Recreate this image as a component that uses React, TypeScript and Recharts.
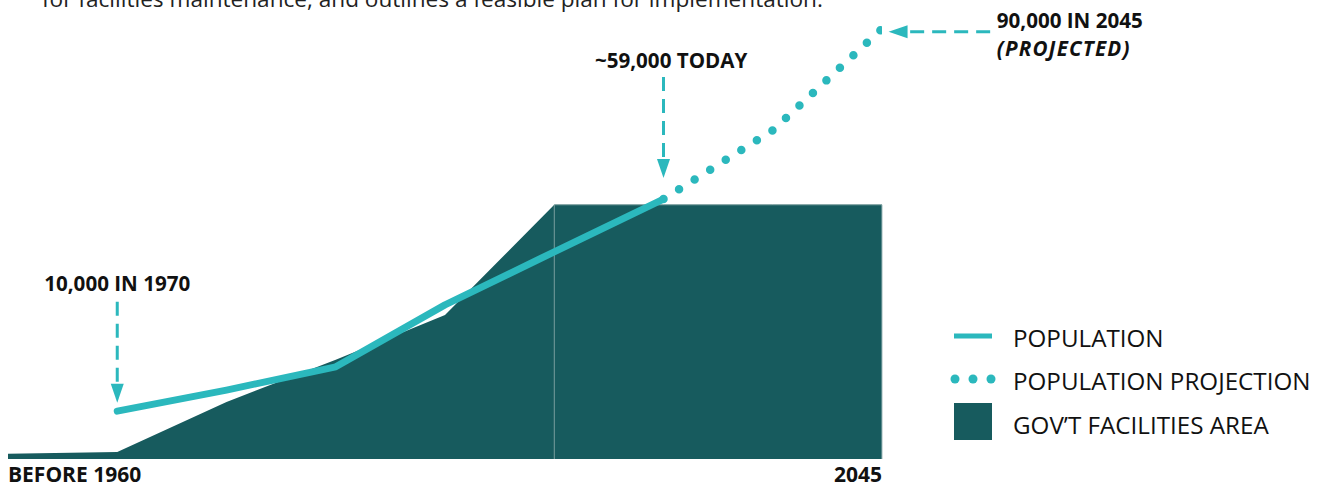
import React from 'react';
import { ComposedChart, Area, Line, XAxis, YAxis, ReferenceLine, ReferenceDot } from 'recharts';

const steps = [0, 1, 2, 3, 4, 5, 6, 7, 8];
const xTickLabels = ['BEFORE 1960', '2045'];
const facilitiesRise = [1.2, 1.6, 13.0, 22.6, 32.8, 57.9, null, null, null];
const facilitiesFlat = [null, null, null, null, null, 57.9, 57.9, 57.9, 57.9];
const population = [null, 10.9, 15.7, 21.0, 35.1, 47.2, 59.2, null, null];
const projection = [null, null, null, null, null, null, 59.2, 74.9, 98.0];
const legendItems = ['POPULATION', 'POPULATION PROJECTION', 'GOV’T FACILITIES AREA'];

const TEAL = '#2bb8bd';
const DARK = '#175b5e';
const FONT = '"Open Sans", sans-serif';

const data = steps.map((s, i) => ({
  step: s,
  rise: facilitiesRise[i],
  flat: facilitiesFlat[i],
  population: population[i],
  projection: projection[i],
}));

const DashArrow = (p: any) => {
  const { x1, y1, x2, y2 } = p;
  const a = Math.atan2(y2 - y1, x2 - x1);
  const len = 19;
  const half = 6.5;
  const bx = x2 - len * Math.cos(a);
  const by = y2 - len * Math.sin(a);
  const pts = [
    [x2, y2],
    [bx - half * Math.sin(a), by + half * Math.cos(a)],
    [bx + half * Math.sin(a), by - half * Math.cos(a)],
  ]
    .map((q) => q.join(','))
    .join(' ');
  return (
    <g>
      <line x1={x1} y1={y1} x2={bx} y2={by} stroke={TEAL} strokeWidth={3} strokeDasharray="14 8" />
      <polygon points={pts} fill={TEAL} />
    </g>
  );
};

const callout = (text: string, anchor: 'start' | 'middle', italic = false) => (p: any) => (
  <text
    x={p.cx}
    y={p.cy}
    textAnchor={anchor}
    dominantBaseline="central"
    fontFamily={FONT}
    fontWeight={700}
    fontStyle={italic ? 'italic' : 'normal'}
    letterSpacing={italic ? 1.2 : 0}
    fontSize={20.6}
    fill="#111"
  >
    {text}
  </text>
);

const XTick = (p: any) => {
  const first = p.payload.value === steps[0];
  return (
    <text
      x={p.x}
      y={p.y}
      dy={22.5}
      textAnchor={first ? 'start' : 'end'}
      fontFamily={FONT}
      fontWeight={700}
      fontSize={21}
      fill="#111"
    >
      {first ? xTickLabels[0] : xTickLabels[1]}
    </text>
  );
};

const ChartLegend = () => (
  <svg width={370} height={140} style={{ position: 'absolute', left: 950, top: 315 }}>
    <line x1={4} y1={21} x2={42} y2={21} stroke={TEAL} strokeWidth={5} />
    {[5, 23, 41].map((cx) => (
      <circle key={cx} cx={cx} cy={64} r={4.5} fill={TEAL} />
    ))}
    <rect x={4} y={88} width={38} height={37} fill={DARK} />
    {legendItems.map((t, i) => (
      <text
        key={t}
        x={63}
        y={[22, 65, 109][i]}
        dominantBaseline="central"
        fontFamily={FONT}
        fontSize={24.2}
        fill="#111"
      >
        {t}
      </text>
    ))}
  </svg>
);

export default function App() {
  return (
    <div style={{ position: 'absolute', left: 0, top: 0, width: 1320, height: 485, background: '#fff', overflow: 'hidden' }}>
      <div
        style={{
          position: 'absolute',
          left: 42,
          top: -12,
          fontFamily: FONT,
          fontSize: 22.6,
          lineHeight: '22.6px',
          whiteSpace: 'nowrap',
          color: '#222',
        }}
      >
        for facilities maintenance, and outlines a feasible plan for implementation.
      </div>
      <ComposedChart width={1320} height={485} data={data} margin={{ top: 20, right: 438, bottom: 0, left: 8 }}>
        <XAxis
          dataKey="step"
          type="number"
          domain={[0, 8]}
          ticks={[0, 8]}
          allowDataOverflow
          height={26}
          axisLine={false}
          tickLine={false}
          tickSize={0}
          tickMargin={0}
          tick={<XTick />}
          interval={0}
        />
        <YAxis hide width={0} domain={[0, 100]} allowDataOverflow />
        <Area dataKey="rise" type="linear" fill={DARK} fillOpacity={1} stroke="none" isAnimationActive={false} />
        <Area dataKey="flat" type="linear" fill={DARK} fillOpacity={1} stroke="#6f9697" strokeWidth={1} isAnimationActive={false} />
        <ReferenceLine segment={[{ x: 5, y: 0 }, { x: 5, y: 57.9 }]} stroke="#6f9697" strokeWidth={1} />
        <ReferenceLine segment={[{ x: 8, y: 0 }, { x: 8, y: 57.9 }]} stroke="#9fb9ba" strokeWidth={1} />
        <Line
          dataKey="population"
          type="linear"
          stroke={TEAL}
          strokeWidth={7}
          strokeLinecap="round"
          strokeLinejoin="round"
          dot={false}
          activeDot={false}
          isAnimationActive={false}
        />
        <Line
          dataKey="projection"
          type="linear"
          stroke={TEAL}
          strokeWidth={8.5}
          strokeLinecap="round"
          strokeDasharray="0 18.4"
          dot={false}
          activeDot={false}
          isAnimationActive={false}
        />
        <ReferenceLine segment={[{ x: 1, y: 35.8 }, { x: 1, y: 12.8 }]} ifOverflow="visible" shape={DashArrow} />
        <ReferenceLine segment={[{ x: 6, y: 87.0 }, { x: 6, y: 64.0 }]} ifOverflow="visible" shape={DashArrow} />
        <ReferenceLine segment={[{ x: 8.99, y: 97.3 }, { x: 8.06, y: 97.3 }]} ifOverflow="visible" shape={DashArrow} />
        <ReferenceDot x={1} y={40.1} ifOverflow="visible" shape={callout('10,000 IN 1970', 'middle')} />
        <ReferenceDot x={6.07} y={90.9} ifOverflow="visible" shape={callout('~59,000 TODAY', 'middle')} />
        <ReferenceDot x={9.05} y={100} ifOverflow="visible" shape={callout('90,000 IN 2045', 'start')} />
        <ReferenceDot x={9.05} y={93.6} ifOverflow="visible" shape={callout('(PROJECTED)', 'start', true)} />
      </ComposedChart>
      <ChartLegend />
    </div>
  );
}
